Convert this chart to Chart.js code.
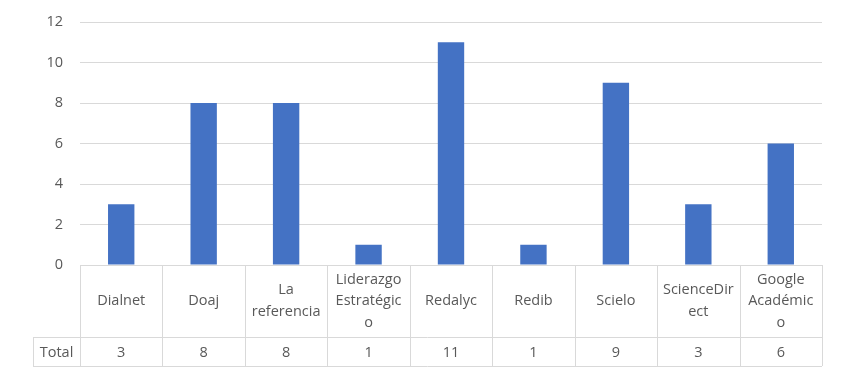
<!DOCTYPE html>
<html>
<head>
<meta charset="utf-8">
<script src="https://cdn.jsdelivr.net/npm/chart.js"></script>
<style>
  html, body { margin: 0; padding: 0; background: #fff; }
  #wrap { width: 843px; height: 376px; }
</style>
</head>
<body>
<div id="wrap"><canvas id="chart" width="843" height="376"></canvas></div>
<script>
// Datos
const categories = ['Dialnet', 'Doaj', ['La', 'referencia'], ['Liderazgo', 'Estratégic', 'o'], 'Redalyc', 'Redib', 'Scielo', ['ScienceDir', 'ect'], ['Google', 'Académic', 'o']];
const totals = [3, 8, 8, 1, 11, 1, 9, 3, 6];
const seriesName = 'Total';
const yTicks = [0, 2, 4, 6, 8, 10, 12];

const textColor = '#595959';
const lineColor = '#d9d9d9';
const fontFamily = '"Open Sans", "Noto Sans", sans-serif';
const fontSize = 14.5;

// Tabla de datos debajo del eje (estilo Excel)
const dataTable = {
    id: 'dataTable',
    afterDraw(chart) {
        const ctx = chart.ctx;
        const x = chart.scales.x;
        const area = chart.chartArea;
        const n = categories.length;
        const colW = (area.right - area.left) / n;
        const top = Math.round(area.bottom);
        const mid = top + 72;
        const bottom = mid + 29;
        const labelLeft = 33;

        ctx.save();
        ctx.strokeStyle = lineColor;
        ctx.lineWidth = 1;
        ctx.beginPath();
        // horizontales
        ctx.moveTo(area.left, top + 0.5); ctx.lineTo(area.right, top + 0.5);
        ctx.moveTo(labelLeft, mid + 0.5); ctx.lineTo(area.right, mid + 0.5);
        ctx.moveTo(labelLeft, bottom + 0.5); ctx.lineTo(area.right, bottom + 0.5);
        // verticales
        ctx.moveTo(labelLeft + 0.5, mid); ctx.lineTo(labelLeft + 0.5, bottom);
        for (let i = 0; i <= n; i++) {
            const px = Math.round(area.left + i * colW) + 0.5;
            ctx.moveTo(px, top); ctx.lineTo(px, bottom);
        }
        ctx.stroke();

        ctx.fillStyle = textColor;
        ctx.font = fontSize + 'px ' + fontFamily;
        ctx.textAlign = 'center';
        ctx.textBaseline = 'middle';
        const lh = 21.5;
        categories.forEach((cat, i) => {
            const cx = x.getPixelForValue(i);
            const lines = Array.isArray(cat) ? cat : [cat];
            const cy = (top + mid) / 2 - (lines.length - 1) * lh / 2;
            lines.forEach((ln, j) => ctx.fillText(ln, cx, cy + j * lh));
            ctx.fillText(String(totals[i]), cx, (mid + bottom) / 2 + 1);
        });
        ctx.fillText(seriesName, (labelLeft + area.left) / 2, (mid + bottom) / 2 + 1);
        ctx.restore();
    }
};

new Chart(document.getElementById('chart'), {
    type: 'bar',
    data: {
        labels: categories,
        datasets: [{
            label: seriesName,
            data: totals,
            backgroundColor: '#4472C4',
            borderWidth: 0,
            barPercentage: 0.32,
            categoryPercentage: 1.0
        }]
    },
    options: {
        responsive: false,
        animation: false,
        layout: { padding: { top: 22, right: 21, bottom: 111, left: 0 } },
        plugins: {
            legend: { display: false },
            tooltip: { enabled: false }
        },
        scales: {
            x: {
                display: false
            },
            y: {
                min: 0,
                max: 12,
                afterBuildTicks(scale) {
                    scale.ticks = yTicks.map(v => ({ value: v }));
                },
                afterFit(scale) {
                    scale.width = 80;
                    scale.paddingTop = 0;
                    scale.paddingBottom = 0;
                },
                border: { display: false },
                grid: { color: lineColor, drawTicks: false },
                ticks: {
                    color: textColor,
                    padding: 17,
                    font: { family: fontFamily, size: fontSize }
                }
            }
        }
    },
    plugins: [dataTable]
});
</script>
</body>
</html>
